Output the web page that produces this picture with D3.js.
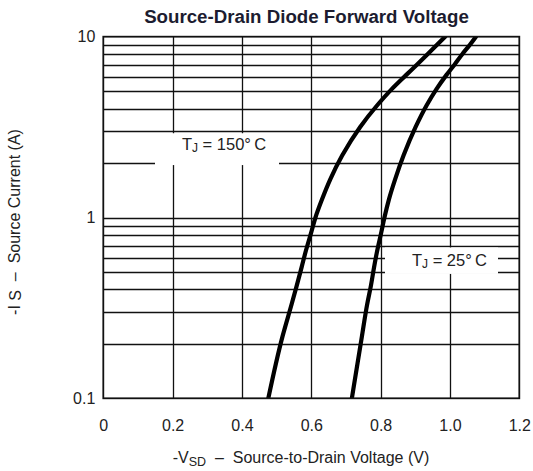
<!DOCTYPE html>
<html>
<head>
<meta charset="utf-8">
<script src="https://cdn.jsdelivr.net/npm/d3@7"></script>
<style>
  body { margin: 0; background: #fff; }
  text { font-family: "Liberation Sans", Arial, Helvetica, sans-serif; white-space: pre; }
</style>
</head>
<body>
<svg id="chart" width="533" height="471"></svg>
<script>
// Axis ticks
const voltageTicks = [0, 0.2, 0.4, 0.6, 0.8, 1.0, 1.2];
const voltageTickLabels = ["0", "0.2", "0.4", "0.6", "0.8", "1.0", "1.2"];
const currentTicks = [0.1, 1, 10];
const currentTickLabels = ["0.1", "1", "10"];
const voltageGrid = [0.2, 0.4, 0.6, 0.8, 1.0];
const currentGrid = [0.2, 0.3, 0.4, 0.5, 0.6, 0.7, 0.8, 0.9, 1, 2, 3, 4, 5, 6, 7, 8, 9];

// Forward characteristic at TJ = 150 °C
const vsd150 = [0.476, 0.517, 0.543, 0.558, 0.572, 0.583, 0.600, 0.612, 0.631, 0.655, 0.689, 0.741, 0.789, 0.832, 0.874, 0.906, 0.936, 0.962, 0.986];
const is150  = [0.10, 0.22, 0.33, 0.42, 0.53, 0.64, 0.83, 1.00, 1.26, 1.63, 2.20, 3.17, 4.15, 5.13, 6.15, 7.05, 8.03, 9.00, 10.0];

// Forward characteristic at TJ = 25 °C
const vsd25 = [0.717, 0.746, 0.761, 0.772, 0.781, 0.789, 0.802, 0.811, 0.824, 0.842, 0.866, 0.901, 0.932, 0.961, 0.990, 1.014, 1.036, 1.057, 1.075];
const is25  = [0.10, 0.22, 0.33, 0.42, 0.53, 0.64, 0.83, 1.00, 1.26, 1.63, 2.20, 3.17, 4.15, 5.13, 6.15, 7.05, 8.03, 9.00, 10.0];

const svg = d3.select("#chart");
const plot = { left: 103.3, right: 519.3, top: 36.7, bottom: 398.3 };

const x = d3.scaleLinear().domain([0, 1.2]).range([plot.left, plot.right]);
const y = d3.scaleLog().domain([0.1, 10]).range([plot.bottom, plot.top]);

const ink = "#111";
const textInk = "#222";

// Title
svg.append("text")
  .attr("x", 306.5).attr("y", 23)
  .attr("text-anchor", "middle")
  .attr("font-size", 18.7).attr("font-weight", "bold")
  .attr("fill", "#1c1c30")
  .text("Source-Drain Diode Forward Voltage");

// Grid
const grid = svg.append("g").attr("stroke", ink).attr("stroke-width", 1.3);
grid.selectAll("line.h").data(currentGrid).join("line")
  .attr("class", "h")
  .attr("x1", plot.left).attr("x2", plot.right)
  .attr("y1", d => Math.round(y(d)) + 0.5).attr("y2", d => Math.round(y(d)) + 0.5);
grid.selectAll("line.v").data(voltageGrid).join("line")
  .attr("class", "v")
  .attr("y1", plot.top).attr("y2", plot.bottom)
  .attr("x1", d => Math.round(x(d)) + 0.5).attr("x2", d => Math.round(x(d)) + 0.5);

// Temperature labels on white patches over the grid
function tempLabel(x0, x1, y0, y1, tx, cy, temp) {
  svg.append("rect")
    .attr("x", x0).attr("y", y0)
    .attr("width", x1 - x0).attr("height", y1 - y0)
    .attr("fill", "#fff");
  const t = svg.append("text")
    .attr("x", tx).attr("y", cy)
    .attr("text-anchor", "middle")
    .attr("dominant-baseline", "central")
    .attr("font-size", 16.5).attr("fill", textInk);
  t.append("tspan").text("T");
  t.append("tspan").attr("font-size", 12).attr("dy", 4).text("J");
  t.append("tspan").attr("dy", -4).text(" = " + temp + "\u00B0\u2009C");
}
tempLabel(155, 279, y(3) + 2, y(2) + 2, 224, 144, "150");
tempLabel(385, 498, y(0.7) + 2, y(0.5) + 2, 449.5, 260, "25");

// Curves
const clipId = "plot-clip";
svg.append("clipPath").attr("id", clipId)
  .append("rect")
  .attr("x", plot.left).attr("y", plot.top)
  .attr("width", plot.right - plot.left).attr("height", plot.bottom - plot.top);

const line = d3.line()
  .x(d => x(d[0])).y(d => y(d[1]))
  .curve(d3.curveMonotoneY);

const curves = [d3.zip(vsd150, is150), d3.zip(vsd25, is25)];
svg.append("g").attr("clip-path", `url(#${clipId})`)
  .selectAll("path").data(curves).join("path")
  .attr("d", line)
  .attr("fill", "none")
  .attr("stroke", "#000")
  .attr("stroke-width", 4.2)
  .attr("stroke-linecap", "round");

// Plot frame
svg.append("rect")
  .attr("x", plot.left).attr("y", plot.top)
  .attr("width", plot.right - plot.left).attr("height", plot.bottom - plot.top)
  .attr("fill", "none").attr("stroke", ink).attr("stroke-width", 1.8);

// Axes (labels only)
const xAxis = d3.axisBottom(x)
  .tickValues(voltageTicks)
  .tickFormat((d, i) => voltageTickLabels[i])
  .tickSize(0).tickPadding(0);
svg.append("g")
  .attr("transform", `translate(0, ${plot.bottom + 21})`)
  .call(xAxis)
  .call(g => g.select(".domain").remove())
  .selectAll("text")
  .attr("font-size", 16).attr("fill", textInk)
  .attr("font-family", "\"Liberation Sans\", Arial, sans-serif");

const yAxis = d3.axisLeft(y)
  .tickValues(currentTicks)
  .tickFormat((d, i) => currentTickLabels[i])
  .tickSize(0).tickPadding(0);
svg.append("g")
  .attr("transform", `translate(${plot.left - 8}, 0)`)
  .call(yAxis)
  .call(g => g.select(".domain").remove())
  .selectAll("text")
  .attr("font-size", 16).attr("fill", textInk)
  .attr("font-family", "\"Liberation Sans\", Arial, sans-serif");

// Axis titles
const xt = svg.append("text")
  .attr("x", 301).attr("y", 463)
  .attr("text-anchor", "middle")
  .attr("font-size", 16).attr("fill", textInk);
xt.append("tspan").text("-V");
xt.append("tspan").attr("font-size", 12.5).attr("dy", 3).text("SD");
xt.append("tspan").attr("dy", -3).text("  \u2013  Source-to-Drain Voltage (V)");

const yt = svg.append("text")
  .attr("transform", "translate(20, 222) rotate(-90)")
  .attr("text-anchor", "middle")
  .attr("font-size", 16).attr("fill", textInk);
yt.append("tspan").text("-I ");
yt.append("tspan").attr("dy", 1).text("S");
yt.append("tspan").attr("dy", -1).text("  \u2013  Source Current (A)");
</script>
</body>
</html>
